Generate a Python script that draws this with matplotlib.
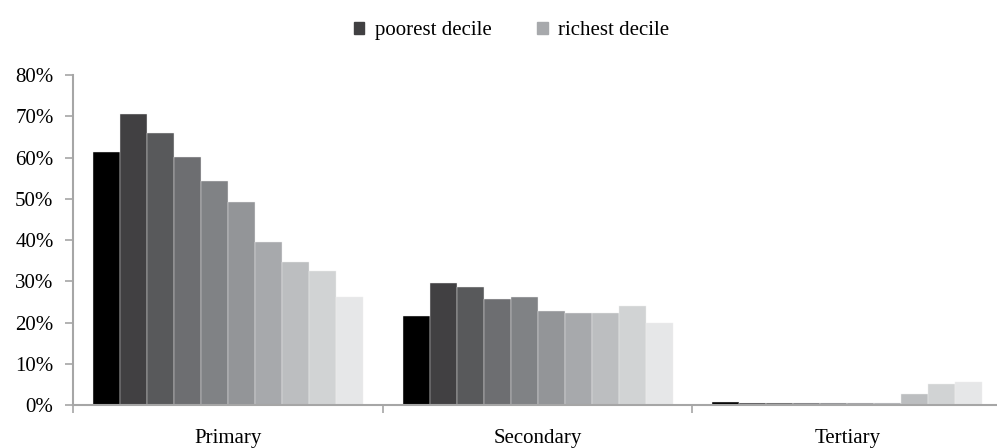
import numpy as np
import matplotlib.pyplot as plt
from matplotlib.patches import Patch

plt.rcParams['font.family'] = ['Liberation Serif', 'DejaVu Serif']

# share of each decile's spending by level (decile 1 = poorest ... 10 = richest)
levels = ['Primary', 'Secondary', 'Tertiary']
primary = [61.3, 70.5, 65.9, 60.1, 54.4, 49.3, 39.5, 34.8, 32.5, 26.2]
secondary = [21.6, 29.7, 28.6, 25.7, 26.2, 22.7, 22.3, 22.3, 24.0, 19.9]
tertiary = [0.7, 0.6, 0.6, 0.5, 0.5, 0.5, 0.5, 2.7, 5.0, 5.6]
yticks = [0, 10, 20, 30, 40, 50, 60, 70, 80]
ytick_labels = ['0%', '10%', '20%', '30%', '40%', '50%', '60%', '70%', '80%']
legend_labels = ['poorest decile', 'richest decile']

decile_colors = ['#000000', '#414042', '#58595b', '#6d6e71', '#808285',
                 '#939598', '#a7a9ac', '#bcbec0', '#d1d3d4', '#e6e7e8']
axis_gray = '#a6a6a6'

values = np.array([primary, secondary, tertiary])  # shape (3 levels, 10 deciles)

fig = plt.figure(figsize=(9.97, 4.48), dpi=100)
ax = fig.add_axes([0.0732, 0.096, 0.932, 0.736])

n = values.shape[1]
w = 0.872 / n
for i in range(n):
    x = np.arange(len(levels)) + 0.5 - 0.436 + (i + 0.5) * w
    ax.bar(x, values[:, i], width=w, color=decile_colors[i],
           edgecolor='#f0f0f0', linewidth=0.3)

ax.set_xlim(0, 3)
ax.set_ylim(0, 80)
ax.set_yticks(yticks)
ax.set_yticklabels(ytick_labels, fontsize=15)

# group boundaries as ticks, names in the middle
ax.set_xticks([0, 1, 2, 3])
ax.set_xticklabels([])
ax.set_xticks([0.5, 1.5, 2.5], minor=True)
ax.set_xticklabels(levels, minor=True, fontsize=15)
ax.tick_params(axis='x', which='minor', length=0, pad=17)
ax.tick_params(axis='x', which='major', length=6, width=1.2, color=axis_gray)
ax.tick_params(axis='y', length=6, width=1.2, color=axis_gray, pad=8)

for s in ['top', 'right']:
    ax.spines[s].set_visible(False)
for s in ['left', 'bottom']:
    ax.spines[s].set_color(axis_gray)
    ax.spines[s].set_linewidth(1.5)

handles = [Patch(color=decile_colors[1]), Patch(color=decile_colors[6])]
fig.legend(handles, legend_labels, loc='upper center', bbox_to_anchor=(0.513, 0.995),
           ncol=2, frameon=False, fontsize=15, handlelength=0.5, handleheight=0.5,
           handletextpad=0.5, columnspacing=2.2)

fig.savefig('out.png', dpi=100)
